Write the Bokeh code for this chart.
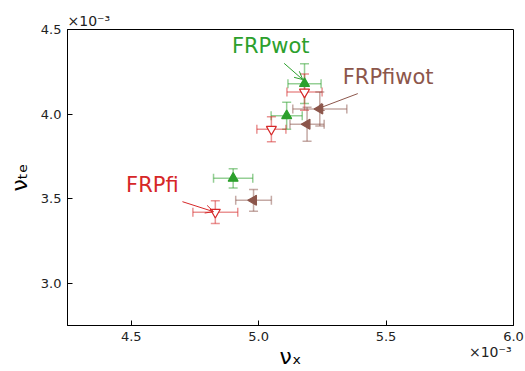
import math
from bokeh.plotting import figure
from bokeh.models import (ColumnDataSource, Whisker, TeeHead, Arrow, OpenHead, Label, Title,
                          FixedTicker, PrintfTickFormatter, Range1d)
from bokeh.embed import file_html
from bokeh.resources import INLINE

# values in units of 1e-3
wot_x = [4.90, 5.11, 5.18]
wot_y = [3.62, 3.99, 4.18]
wot_xerr = [0.077, 0.061, 0.065]
wot_yerr = [0.057, 0.08, 0.118]

fi_x = [4.83, 5.05, 5.18]
fi_y = [3.42, 3.91, 4.13]
fi_xerr = [0.088, 0.057, 0.069]
fi_yerr = [0.067, 0.074, 0.107]

fiwot_x = [4.98, 5.19, 5.24]
fiwot_y = [3.49, 3.94, 4.03]
fiwot_xerr = [0.07, 0.067, 0.106]
fiwot_yerr = [0.064, 0.1, 0.1]

x_ticks = [4.5, 5.0, 5.5, 6.0]
y_ticks = [3.0, 3.5, 4.0, 4.5]

GREEN = "#2ca02c"
RED = "#d62728"
BROWN = "#8c564b"
FONT = "DejaVu Sans"

p = figure(width=525, height=371, output_backend="svg", toolbar_location=None,
           x_range=Range1d(4.25, 6.0), y_range=Range1d(2.75, 4.5),
           min_border_left=67, min_border_right=12, min_border_top=29, min_border_bottom=20)
p.grid.visible = False
p.outline_line_color = "black"
p.outline_line_width = 1
p.background_fill_color = "white"
p.border_fill_color = "white"

for ax, ticks in ((p.xaxis, x_ticks), (p.yaxis, y_ticks)):
    ax.ticker = FixedTicker(ticks=ticks)
    ax.formatter = PrintfTickFormatter(format="%.1f")
    ax.major_tick_in = 5
    ax.major_tick_out = 0
    ax.minor_tick_line_color = None
    ax.major_label_text_font = FONT
    ax.major_label_text_font_size = "13px"
    ax.major_label_text_color = "#222222"
    ax.axis_line_color = "black"
    ax.major_tick_line_color = "black"
    ax.axis_label_text_font = FONT
    ax.axis_label_text_font_style = "normal"
    ax.axis_label_text_font_size = "22px"
    ax.axis_label_text_color = "black"
p.xaxis.major_label_standoff = 6
p.yaxis.major_label_standoff = 6
p.xaxis.axis_label = "νₓ"
p.yaxis.axis_label = "νₜₑ"
p.xaxis.axis_label_standoff = 0
p.yaxis.axis_label_standoff = 6

def series(xs, ys, xe, ye, color, marker, fill, angle):
    src = ColumnDataSource(dict(x=xs, y=ys,
                                xl=[a - b for a, b in zip(xs, xe)], xu=[a + b for a, b in zip(xs, xe)],
                                yl=[a - b for a, b in zip(ys, ye)], yu=[a + b for a, b in zip(ys, ye)]))
    for dim, base, lo, up in (("width", "y", "xl", "xu"), ("height", "x", "yl", "yu")):
        w = Whisker(source=src, base=base, lower=lo, upper=up, dimension=dim,
                    line_color=color, line_alpha=0.5, line_width=1.5,
                    lower_head=TeeHead(size=9, line_color=color, line_alpha=0.5, line_width=1.5),
                    upper_head=TeeHead(size=9, line_color=color, line_alpha=0.5, line_width=1.5))
        p.add_layout(w)
    p.scatter("x", "y", source=src, marker=marker, size=10, angle=angle,
              fill_color=fill, line_color=color, line_width=1.2)

series(wot_x, wot_y, wot_xerr, wot_yerr, GREEN, "triangle", GREEN, 0)
series(fi_x, fi_y, fi_xerr, fi_yerr, RED, "inverted_triangle", "white", 0)
series(fiwot_x, fiwot_y, fiwot_xerr, fiwot_yerr, BROWN, "triangle", BROWN, math.pi / 2)

# annotations
p.add_layout(Label(x=4.895, y=4.33, text="FRPwot", text_color=GREEN, text_font=FONT,
                   text_font_size="21px"))
p.add_layout(Arrow(x_start=5.10, y_start=4.30, x_end=5.173, y_end=4.204, line_color=GREEN,
                   line_width=1, end=OpenHead(size=8, line_color=GREEN, line_width=1)))
p.add_layout(Label(x=5.33, y=4.15, text="FRPfiwot", text_color=BROWN, text_font=FONT,
                   text_font_size="21px"))
p.add_layout(Arrow(x_start=5.389, y_start=4.121, x_end=5.224, y_end=4.027, line_color=BROWN,
                   line_width=1, end=OpenHead(size=8, line_color=BROWN, line_width=1)))
p.add_layout(Label(x=4.48, y=3.51, text="FRPfi", text_color=RED, text_font=FONT,
                   text_font_size="21px"))
p.add_layout(Arrow(x_start=4.701, y_start=3.482, x_end=4.823, y_end=3.423, line_color=RED,
                   line_width=1, end=OpenHead(size=8, line_color=RED, line_width=1)))

# offset texts (scale factor of the axes)
p.add_layout(Title(text="×10⁻³", align="left", text_font=FONT, text_font_size="14px",
                   text_font_style="normal", text_color="#222222", offset=0, standoff=2), "above")
p.add_layout(Title(text="×10⁻³", align="right", vertical_align="top", text_font=FONT,
                   text_font_size="14px", text_font_style="normal", text_color="#222222",
                   offset=2, standoff=-56), "below")

open("out.html", "w").write(file_html(p, INLINE))
